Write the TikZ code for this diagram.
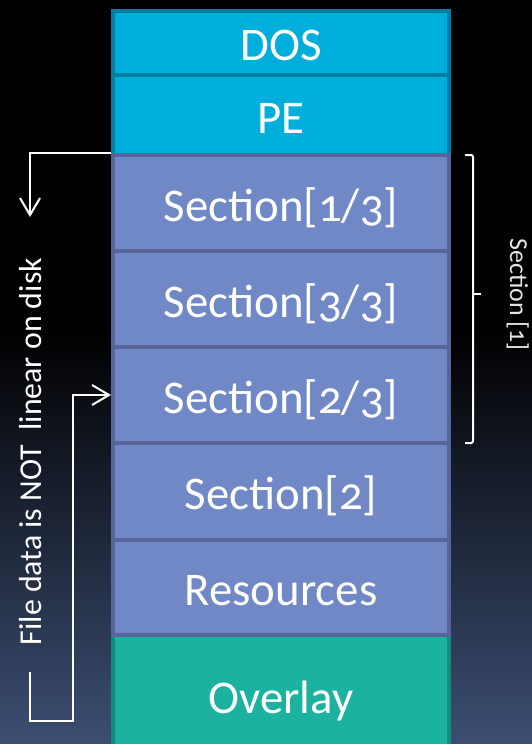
\documentclass[tikz,border=0pt]{standalone}
\usepackage{fontspec}
\setmainfont{Carlito}[Numbers=OldStyle]
\usetikzlibrary{arrows.meta}
\definecolor{bgbot}{HTML}{3C4E72}
\definecolor{hdrfill}{HTML}{00AEDB}
\definecolor{hdrline}{HTML}{007FA3}
\definecolor{secfill}{HTML}{7089C6}
\definecolor{secline}{HTML}{56659A}
\definecolor{ovfill}{HTML}{1BB39F}
\definecolor{ovline}{HTML}{128F7C}
\definecolor{lbl}{HTML}{E6E6E6}
\pgfdeclareverticalshading{bgshade}{100bp}{color(0bp)=(bgbot); color(25bp)=(bgbot); color(53bp)=(black); color(100bp)=(black)}
\tikzset{
  cell/.style={draw, line width=4bp, minimum width=336bp, minimum height=#1,
    inner sep=0pt, text height=36bp, text depth=0pt, text=white,
    font=\fontsize{47}{50}\selectfont},
  hdr/.style={cell=#1, fill=hdrfill, draw=hdrline},
  sec/.style={cell=#1, fill=secfill, draw=secline},
  ovl/.style={cell=#1, fill=ovfill, draw=ovline},
  conn/.style={draw=white, line width=2bp},
  tip/.style={-{Straight Barb[length=17bp,width=20bp]}},
}
\begin{document}
\begin{tikzpicture}[x=1bp,y=-1bp]
\useasboundingbox (0,0) rectangle (532,744);
\clip (0,0) rectangle (532,744);
\shade[shading=bgshade] (0,0) rectangle (532,744);

\node[hdr=64bp] (dos) at (281,43) {DOS};
\node[hdr=80bp] (pe) at (281,115) {PE};
\node[ovl=120bp] (ov) at (281,695) {Overlay};
\node[sec=96bp] (s13) at (281,203) {Section[1/3]};
\node[sec=96bp] (s33) at (281,299) {Section[3/3]};
\node[sec=96bp] (s23) at (281,395) {Section[2/3]};
\node[sec=97bp] (s2) at (281,491.5) {Section[2]};
\node[sec=95bp] (res) at (281,587.5) {Resources};

% left connectors
\coordinate (a1end) at (30,217);
\draw[conn,tip] (s13.north west) -| (a1end);
\coordinate (a2start) at (30,672);
\coordinate (a2low) at (73,721);
\draw[conn,tip] (a2start) |- (a2low) |- (s23.west);

\node[rotate=90, anchor=base, text=white, inner sep=0pt,
  font=\fontsize{32}{34}\selectfont] (note) at (41,451.5)
  {File data is NOT\ \ linear on disk};

% right brace
\coordinate (bt) at (465,155);
\coordinate (bb) at (465,443);
\coordinate (bm) at (481,294);
\draw[conn, rounded corners=2bp] (bt) -- (473,155) -- (473,443) -- (bb);
\draw[conn] (473,294) -- (bm);
\node[rotate=-90, anchor=base, text=lbl, inner sep=0pt,
  font=\fontsize{26}{28}\selectfont] (seclbl) at (510,294.5) {Section [1]};
\end{tikzpicture}
\end{document}
